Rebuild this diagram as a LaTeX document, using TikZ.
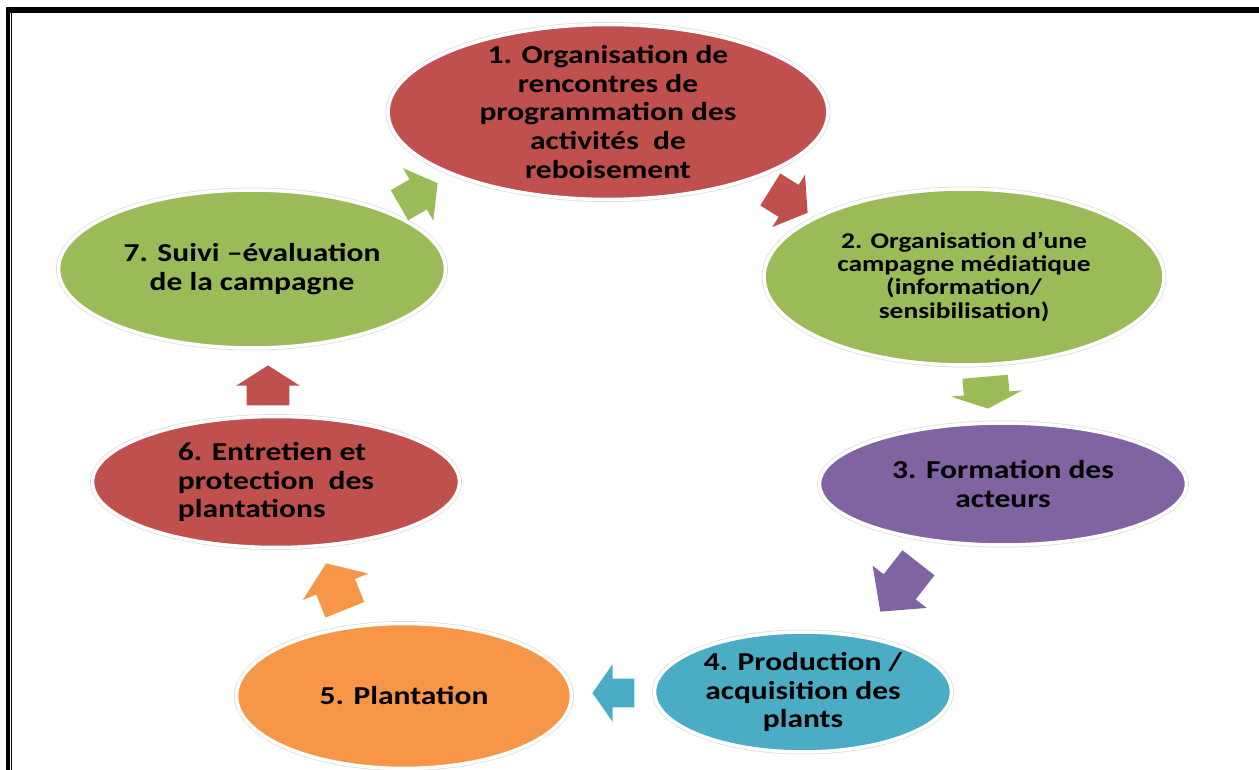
\documentclass[tikz,border=0pt]{standalone}
\usepackage{fontspec}
\setmainfont{Carlito}[FakeStretch=1.22]
\usepackage{tikz}
\usetikzlibrary{shapes.geometric,shapes.arrows}

\definecolor{stagered}{HTML}{C0504D}
\definecolor{stagegreen}{HTML}{9BBB59}
\definecolor{stagepurple}{HTML}{8064A2}
\definecolor{stageblue}{HTML}{4BACC6}
\definecolor{stageorange}{HTML}{F79646}

\begin{document}
\begin{tikzpicture}[x=0.02cm, y=-0.02cm]
        % Define styles
        \tikzset{
            stage/.style={ellipse, fill=#1, draw=white, line width=2pt, preaction={draw=black!14, line width=2.8pt}, inner sep=0pt},
            stagetext/.style={align=center, text=black, font=\bfseries\fontsize{14.7}{16.3}\selectfont},
            flow/.style={single arrow, fill=#1, draw=none, anchor=tip, inner xsep=0pt, single arrow head indent=0pt}
        }
        \useasboundingbox (0,0) rectangle (1259,770);

        % Page frame
        \fill (6,7) rectangle (1259,13.5);
        \fill (6,7) rectangle (10,770);
        \fill (11,13) rectangle (12.3,770);

        % Create stages
        \node [stage=stagered, minimum width=8.8cm, minimum height=3.5cm,
               label={[stagetext]center:{1. Organisation de\\rencontres de\\programmation des\\activités~ de\\reboisement}}] (s1) at (608,112) {};
        \node [stage=stagegreen, minimum width=8cm, minimum height=3.52cm,
               label={[stagetext, font=\bfseries\fontsize{12.8}{13.1}\selectfont]center:{2. Organisation d’une\\campagne médiatique\\(information/\\sensibilisation)}}] (s2) at (964,277) {};
        \node [stage=stagepurple, minimum width=7.34cm, minimum height=2.44cm,
               label={[stagetext]center:{3. Formation des\\acteurs}}] (s3) at (1003,484) {};
        \node [stage=stageblue, minimum width=5.94cm, minimum height=2.4cm,
               label={[stagetext]center:{4. Production /\\acquisition des\\plants}}] (s4) at (803,692) {};
        \node [stage=stageorange, minimum width=6.7cm, minimum height=2.9cm,
               label={[stagetext]center:{5. Plantation}}] (s5) at (404,696) {};
        \node [stage=stagered, minimum width=7.34cm, minimum height=2.62cm,
               label={[stagetext, align=left]center:{6. Entretien et\\protection~ des\\plantations}}] (s6) at (276,482) {};
        \node [stage=stagegreen, minimum width=7.74cm, minimum height=3.16cm,
               label={[stagetext]center:{7. Suivi –évaluation\\de la campagne}}] (s7) at (252,269) {};

        % Create arrows
        \node [flow=stagered, rotate=-32, minimum height=0.88cm, inner ysep=0.37cm, single arrow head extend=0.24cm, single arrow tip angle=108] (a12) at (808,213) {};
        \node [flow=stagegreen, rotate=-85, minimum height=0.64cm, inner ysep=0.45cm, single arrow head extend=0.26cm, single arrow tip angle=134] (a23) at (988,409) {};
        \node [flow=stagepurple, rotate=-128, minimum height=1.24cm, inner ysep=0.4cm, single arrow head extend=0.28cm, single arrow tip angle=95] (a34) at (880,612) {};
        \node [flow=stageblue, rotate=180, minimum height=0.84cm, inner ysep=0.28cm, single arrow head extend=0.29cm, single arrow tip angle=110] (a45) at (592,693) {};
        \node [flow=stageorange, rotate=112, minimum height=1cm, inner ysep=0.41cm, single arrow head extend=0.29cm, single arrow tip angle=109] (a56) at (326,563) {};
        \node [flow=stagered, rotate=90, minimum height=0.8cm, inner ysep=0.42cm, single arrow head extend=0.21cm, single arrow tip angle=115] (a67) at (268,365) {};
        \node [flow=stagegreen, rotate=30, minimum height=0.88cm, inner ysep=0.34cm, single arrow head extend=0.26cm, single arrow tip angle=107] (a71) at (438,183) {};
    \end{tikzpicture}
\end{document}
